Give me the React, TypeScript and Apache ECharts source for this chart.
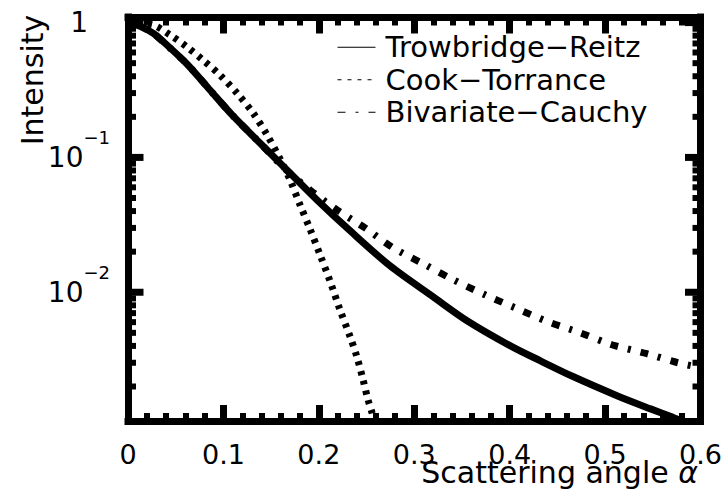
import React, { useEffect, useRef } from 'react';
import * as echarts from 'echarts';

const FONT = '"DejaVu Sans", "Liberation Sans", sans-serif';

const seriesNames = ['Trowbridge−Reitz', 'Cook−Torrance', 'Bivariate−Cauchy'];

// [scattering angle α, intensity]
const trowbridgeReitz: number[][] = [
  [0, 1], [0.0126, 0.94], [0.0262, 0.836], [0.0367, 0.725], [0.0618, 0.493],
  [0.0859, 0.316], [0.1101, 0.203], [0.1383, 0.128], [0.1666, 0.0808],
  [0.1981, 0.0484], [0.2327, 0.0286], [0.2746, 0.0157], [0.3196, 0.00927],
  [0.3553, 0.00615], [0.4003, 0.00402], [0.4318, 0.00311], [0.4664, 0.00237],
  [0.5125, 0.00171], [0.547, 0.00137], [0.5712, 0.00118], [0.6, 0.00098],
];

const cookTorrance: number[][] = [
  [0, 1], [0.0262, 0.96], [0.044, 0.81], [0.0618, 0.66], [0.0786, 0.527],
  [0.0964, 0.408], [0.1142, 0.3], [0.131, 0.214], [0.1457, 0.147],
  [0.1593, 0.0977], [0.1698, 0.0682], [0.1803, 0.0445], [0.1907, 0.0295],
  [0.2012, 0.019], [0.2117, 0.0121], [0.2222, 0.0074], [0.2327, 0.0047],
  [0.24, 0.0033], [0.2463, 0.00225], [0.2515, 0.0016], [0.2557, 0.00128],
  [0.26, 0.00096],
];

const bivariateCauchy: number[][] = [
  [0, 1], [0.0126, 0.94], [0.0262, 0.836], [0.0367, 0.72], [0.0618, 0.493],
  [0.0859, 0.316], [0.1101, 0.203], [0.1383, 0.128], [0.1624, 0.085],
  [0.1907, 0.0574], [0.219, 0.0408], [0.2484, 0.03], [0.2777, 0.0214],
  [0.3092, 0.0163], [0.3406, 0.0124], [0.3741, 0.00958], [0.4056, 0.00767],
  [0.4402, 0.00604], [0.4737, 0.00501], [0.5072, 0.00408], [0.5439, 0.0035],
  [0.5764, 0.003], [0.6, 0.00276],
];

const yMajorTicks = [0.01, 0.1, 1];
const yMinorTicks = [
  0.002, 0.003, 0.004, 0.005, 0.006, 0.007, 0.008, 0.009,
  0.02, 0.03, 0.04, 0.05, 0.06, 0.07, 0.08, 0.09,
  0.2, 0.3, 0.4, 0.5, 0.6, 0.7, 0.8, 0.9,
];

const X_MIN = 0;
const X_MAX = 0.6;
const Y_MIN = 0.0011;
const Y_MAX = 1.1;

export default function App() {
  const ref = useRef<HTMLDivElement>(null);

  useEffect(() => {
    document.body.style.margin = '0';
    const chart = echarts.init(ref.current as HTMLDivElement, null, { renderer: 'svg' });

    const axisLineStyle = { color: '#000', width: 7, cap: 'square' };

    const xAxisBase = (position: 'bottom' | 'top', showLabel: boolean) => ({
      type: 'value',
      position,
      min: X_MIN,
      max: X_MAX,
      interval: 0.1,
      axisLine: { show: true, onZero: false, lineStyle: axisLineStyle },
      axisTick: { show: true, inside: true, length: 16.5, lineStyle: { color: '#000', width: 7 } },
      minorTick: { show: true, splitNumber: 5, length: 8.5, lineStyle: { color: '#000', width: 6 } },
      splitLine: { show: false },
      minorSplitLine: { show: false },
      axisLabel: {
        show: showLabel,
        margin: 19,
        color: '#000',
        fontFamily: FONT,
        fontSize: 27,
        formatter: (v: number) => (v === 0 ? '0' : v.toFixed(1)),
      },
    });

    const yLabelFormatter = (value: number) => {
      const e = Math.log10(value);
      const r = Math.round(e);
      if (Math.abs(e - r) > 1e-6) return '';
      if (r === 0) return '{one|1}';
      return '{b|10}{s|−' + -r + '}';
    };

    const yAxisBase = (position: 'left' | 'right', showLabel: boolean) => ({
      type: 'log',
      logBase: 10,
      position,
      min: Y_MIN,
      max: Y_MAX,
      axisLine: { show: true, onZero: false, lineStyle: axisLineStyle },
      axisTick: { show: false },
      minorTick: { show: false },
      splitLine: { show: false },
      minorSplitLine: { show: false },
      axisLabel: {
        show: showLabel,
        margin: 18,
        color: '#000',
        fontFamily: FONT,
        fontSize: 28,
        formatter: yLabelFormatter,
        rich: {
          one: { fontFamily: FONT, fontSize: 28, color: '#000', padding: [0, 22, 0, 0] },
          b: { fontFamily: FONT, fontSize: 28, color: '#000', lineHeight: 58 },
          s: { fontFamily: FONT, fontSize: 18, color: '#000', lineHeight: 18, verticalAlign: 'top' },
        },
      },
    });

    const tickData = [
      ...yMajorTicks.map((v) => [X_MIN, v, 1]),
      ...yMinorTicks.map((v) => [X_MIN, v, 0]),
    ];

    const lineSeries = (name: string, data: number[][], type: any) => ({
      name,
      type: 'line',
      data,
      symbol: 'none',
      showSymbol: false,
      smooth: 0.3,
      color: '#000',
      clip: true,
      z: 3,
      lineStyle: { color: '#000', width: 7, type, cap: 'butt' },
    });

    chart.setOption({
      animation: false,
      backgroundColor: '#fff',
      grid: { left: 128, right: 26.5, top: 17, bottom: 70.5, containLabel: false, outerBoundsMode: 'none' },
      xAxis: [xAxisBase('bottom', true), xAxisBase('top', false)],
      yAxis: [yAxisBase('left', true), yAxisBase('right', false)],
      legend: {
        data: seriesNames,
        orient: 'vertical',
        left: 337,
        top: 31,
        padding: 0,
        itemWidth: 38,
        itemHeight: 14,
        itemGap: 0,
        selectedMode: false,
        itemStyle: { opacity: 0 },
        lineStyle: { width: 1 },
        textStyle: {
          fontFamily: FONT,
          fontSize: 29,
          color: '#000',
          lineHeight: 22.5,
          padding: [0, 0, 10, 5],
        },
      },
      graphic: [
        {
          type: 'text',
          right: 29,
          top: 457,
          style: {
            text: '{n|Scattering angle }{a|α}',
            fill: '#000',
            rich: {
              n: { fontFamily: FONT, fontSize: 30, fill: '#000' },
              a: { fontFamily: FONT, fontSize: 30, fontStyle: 'italic', fill: '#000' },
            },
          },
        },
        {
          type: 'text',
          x: 32.5,
          y: 80,
          rotation: Math.PI / 2,
          style: {
            text: 'Intensity',
            fontFamily: FONT,
            fontSize: 30,
            fill: '#000',
            align: 'center',
            verticalAlign: 'middle',
          },
        },
      ],
      series: [
        lineSeries(seriesNames[0], trowbridgeReitz, 'solid'),
        lineSeries(seriesNames[1], cookTorrance, [4, 6]),
        lineSeries(seriesNames[2], bivariateCauchy, [8, 10, 3, 10]),
        {
          type: 'custom',
          name: 'yTicks',
          silent: true,
          clip: false,
          z: 4,
          data: tickData,
          encode: { x: 0, y: 1 },
          renderItem: (_params: any, api: any) => {
            const v = api.value(1);
            const major = api.value(2) === 1;
            const p0 = api.coord([X_MIN, v]);
            const p1 = api.coord([X_MAX, v]);
            const len = major ? 15.5 : 8;
            const w = major ? 7 : 6;
            const style = { stroke: '#000', lineWidth: w };
            return {
              type: 'group',
              children: [
                { type: 'line', shape: { x1: p0[0], y1: p0[1], x2: p0[0] + len, y2: p0[1] }, style },
                { type: 'line', shape: { x1: p1[0] - len, y1: p1[1], x2: p1[0], y2: p1[1] }, style },
              ],
            };
          },
        },
      ],
    });

    return () => chart.dispose();
  }, []);

  return <div ref={ref} style={{ width: 727, height: 492 }} />;
}
